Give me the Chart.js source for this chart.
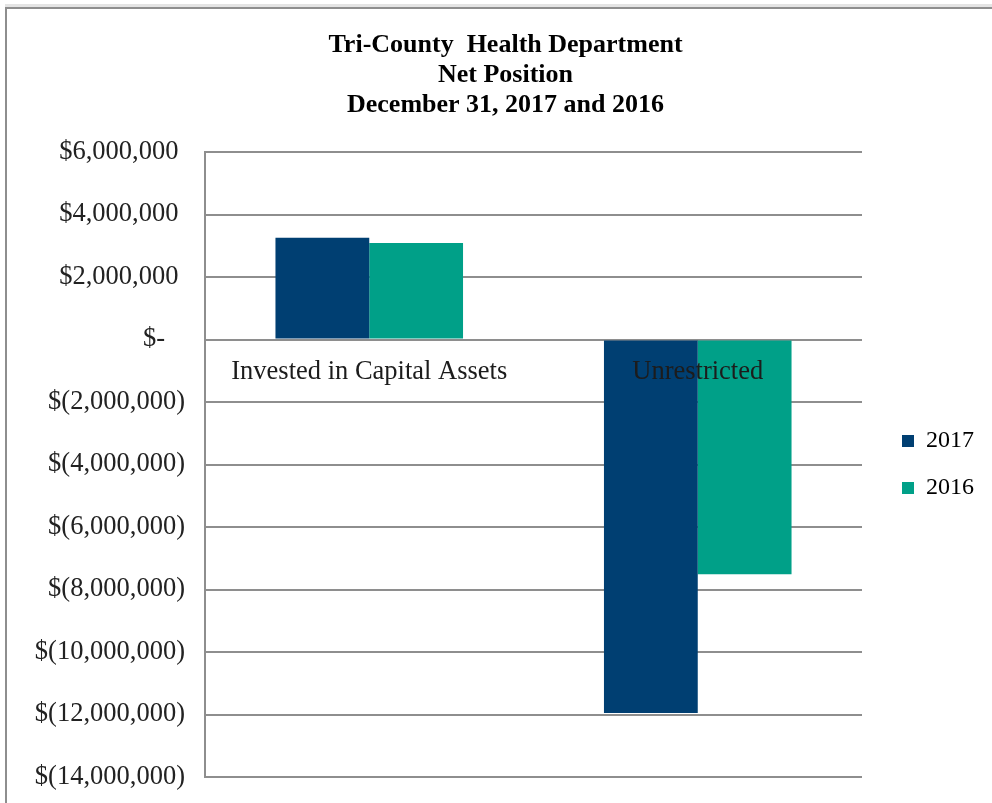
<!DOCTYPE html>
<html>
<head>
<meta charset="utf-8">
<script src="https://cdn.jsdelivr.net/npm/chart.js@4.4.1/dist/chart.umd.min.js"></script>
<style>
  html, body { margin: 0; padding: 0; background: #ffffff; overflow: hidden; }
  #frame { position: absolute; left: 5px; top: 7px; width: 1100px; height: 900px;
           border-left: 2px solid #8e8e8e; border-top: 2px solid #8e8e8e;
           box-shadow: 0 -3px 0 #e4e4e4; }
  #wrap { position: absolute; left: 0; top: 0; width: 992px; height: 803px; }
</style>
</head>
<body>
<div id="frame"></div>
<div id="wrap"><canvas id="c" width="992" height="803"></canvas></div>
<script>
const categories = ["Invested in Capital Assets", "Unrestricted"];
const seriesNames = ["2017", "2016"];
const values2017 = [3260000, -11950000];
const values2016 = [3090000, -7510000];
const titleLines = ["Tri-County  Health Department", "Net Position", "December 31, 2017 and 2016"];
const yMin = -14000000, yMax = 6000000, yStep = 2000000;

const SERIF = "'Liberation Serif', 'Times New Roman', serif";

function fmtTick(v) {
  const abs = Math.abs(v).toLocaleString('en-US');
  if (v === 0) return "$-   ";
  if (v > 0) return "$" + abs + " ";
  return "$(" + abs + ")";
}

const categoryLabelPlugin = {
  id: 'categoryLabels',
  afterDatasetsDraw(chart) {
    const ctx = chart.ctx;
    const xs = chart.scales.x, ys = chart.scales.y;
    ctx.save();
    ctx.font = "26.5px " + SERIF;
    ctx.fillStyle = "#1c1c1c";
    ctx.textAlign = "center";
    ctx.textBaseline = "middle";
    categories.forEach((c, i) => {
      ctx.fillText(c, xs.getPixelForValue(i), ys.getPixelForValue(0) + 33);
    });
    ctx.restore();
  }
};

const placementPlugin = {
  id: 'placement',
  afterLayout(chart) {
    const lg = chart.legend;
    if (lg) {
      const w = lg.width, h = lg.height;
      lg.left = 879; lg.right = 879 + w;
      lg.top = 406; lg.bottom = 406 + h;
    }
    const tb = chart.titleBlock;
    if (tb) { tb.left += 17; tb.right += 17; }
  }
};

new Chart(document.getElementById('c'), {
  type: 'bar',
  data: {
    labels: categories,
    datasets: [
      { label: seriesNames[0], data: values2017, backgroundColor: "#003f72", borderWidth: 0 },
      { label: seriesNames[1], data: values2016, backgroundColor: "#00a088", borderWidth: 0 }
    ]
  },
  options: {
    responsive: false,
    animation: false,
    devicePixelRatio: 1,
    layout: { padding: { left: 10, right: 25, top: 0, bottom: 26 } },
    datasets: { bar: { categoryPercentage: 0.571, barPercentage: 1.0 } },
    scales: {
      x: { display: false },
      y: {
        min: yMin, max: yMax,
        afterFit(scale) { scale.width = 195; scale.paddingTop = 0; scale.paddingBottom = 0; },
        ticks: {
          stepSize: yStep,
          padding: 20,
          color: "#222222",
          font: { family: SERIF, size: 26.5 },
          callback: (v) => fmtTick(v)
        },
        grid: { color: "#8e8e8e", lineWidth: 2, drawTicks: false },
        border: { display: true, color: "#8e8e8e", width: 2 }
      }
    },
    plugins: {
      title: {
        display: true,
        text: titleLines,
        color: "#000000",
        font: { family: SERIF, size: 26, weight: 'bold', lineHeight: 30/26 },
        padding: { top: 30, bottom: 32 }
      },
      legend: {
        display: true,
        position: 'right',
        align: 'start',
        labels: {
          boxWidth: 12, boxHeight: 12,
          padding: 23,
          color: "#000000",
          font: { family: SERIF, size: 24 }
        }
      },
      tooltip: { enabled: false }
    }
  },
  plugins: [categoryLabelPlugin, placementPlugin]
});
</script>
</body>
</html>
